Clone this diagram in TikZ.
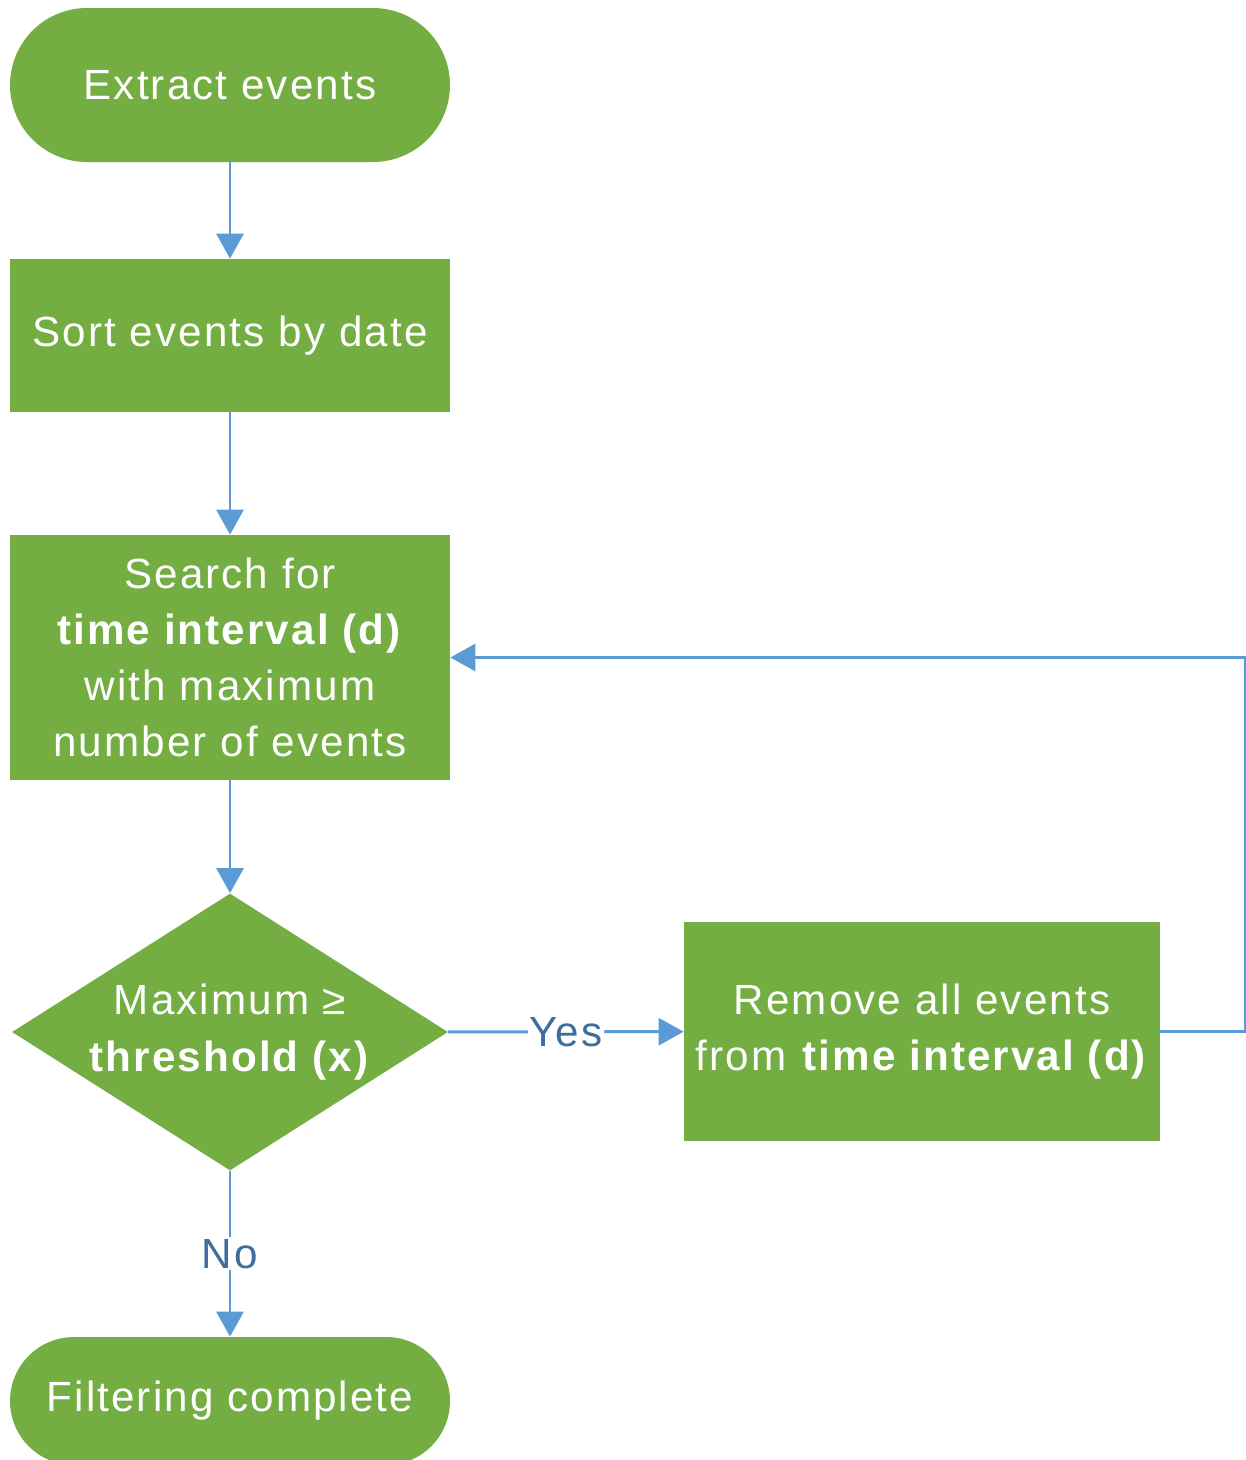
\documentclass[tikz,border=0pt]{standalone}
\usepackage{fontspec}
\setmainfont{Liberation Sans}[LetterSpace=5]
\usepackage{tikz}
\usetikzlibrary{shapes.geometric, arrows.meta, positioning, calc}
\usepackage{xcolor}
\definecolor{flowgreen}{RGB}{116, 174, 67}
\definecolor{flowblue}{RGB}{91, 155, 213}
\definecolor{flowlabel}{RGB}{62, 110, 158}
\tikzstyle{flowtext} = [text=white, align=center, font=\fontsize{24}{32}\selectfont]
\tikzstyle{startstop} = [rectangle, rounded corners=1.54cm, fill=flowgreen, flowtext, minimum width=8.8cm, minimum height=3.08cm]
\tikzstyle{process} = [rectangle, fill=flowgreen, flowtext, minimum width=8.8cm, minimum height=3.06cm]
\tikzstyle{decision} = [diamond, fill=flowgreen, inner sep=0pt, minimum width=8.72cm, minimum height=5.54cm]
\tikzstyle{arrow} = [line width=1.7pt, -{Triangle[width=0.54cm, length=0.5cm]}, flowblue]
\tikzstyle{answer} = [fill=white, text=flowlabel, inner sep=1pt, font=\fontsize{24}{32}\selectfont]

\begin{document}
\begin{tikzpicture}
\useasboundingbox (0,0) rectangle (24.92,-29.2);

% Main column
\node[startstop] (extract) at (4.6,-1.7) {Extract events};
\node[process] (sort) at (4.6,-6.71) {Sort events by date};
\node[process, minimum height=4.9cm] (search) at (4.6,-13.15) {Search for\\\textbf{time interval (d)}\\with maximum\\number of events};
\node[decision, label={[flowtext]center:{Maximum ≥\\\textbf{threshold (x)}}}] (decide) at (4.6,-20.64) {};
\node[startstop, rounded corners=1.28cm, minimum height=2.56cm] (finish) at (4.6,-28.02) {Filtering complete};

% Removal step
\node[process, minimum width=9.52cm, minimum height=4.38cm] (remove) at (18.44,-20.63) {Remove all events\\from \textbf{time interval (d)}};
\coordinate (loopx) at (24.9,0);

% Connectors
\draw[arrow] (extract) -- (sort);
\draw[arrow] (sort) -- (search);
\draw[arrow] (search) -- (decide);
\draw[arrow] (decide) -- node[answer] {Yes} (remove);
\draw[arrow] (decide) -- node[answer] {No} (finish);
\draw[arrow] (remove.east) -- (remove.east -| loopx) |- (search.east);
\end{tikzpicture}
\end{document}
